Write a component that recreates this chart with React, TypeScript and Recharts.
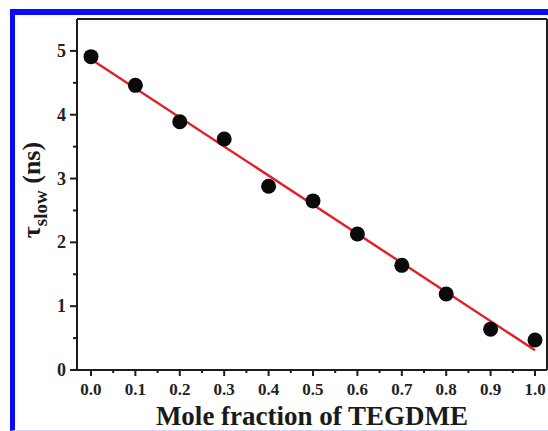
import React from "react";
import {
  ComposedChart,
  Scatter,
  Line,
  XAxis,
  YAxis,
  ReferenceLine,
} from "recharts";

// measured points: tau_slow (ns) vs mole fraction of TEGDME
const moleFractions = [0.0, 0.1, 0.2, 0.3, 0.4, 0.5, 0.6, 0.7, 0.8, 0.9, 1.0];
const tauSlow = [4.91, 4.46, 3.89, 3.62, 2.88, 2.65, 2.13, 1.64, 1.19, 0.64, 0.47];

// linear fit (red line), end points
const fitX = [0.0, 1.0];
const fitY = [4.87, 0.31];

const xMajorTicks = [0.0, 0.1, 0.2, 0.3, 0.4, 0.5, 0.6, 0.7, 0.8, 0.9, 1.0];
const xMinorTicks = [0.05, 0.15, 0.25, 0.35, 0.45, 0.55, 0.65, 0.75, 0.85, 0.95];
const yMajorTicks = [0, 1, 2, 3, 4, 5];
const yMinorTicks = [0.5, 1.5, 2.5, 3.5, 4.5];

const points = moleFractions.map((x, i) => ({ x, y: tauSlow[i] }));
const fitLine = fitX.map((x, i) => ({ x, y: fitY[i] }));

const FONT = '"Liberation Serif", "Times New Roman", serif';
const AXIS = "#1c1c1c";

const isMajor = (v: number, list: number[]) =>
  list.some((m) => Math.abs(m - v) < 1e-6);

function XTick(props: any) {
  const { x, y, payload } = props;
  const major = isMajor(payload.value, xMajorTicks);
  return (
    <g>
      <line x1={x} x2={x} y1={y} y2={y + (major ? 6 : 3)} stroke={AXIS} strokeWidth={2} />
      {major && (
        <text
          x={x}
          y={y + 25}
          textAnchor="middle"
          fontFamily={FONT}
          fontWeight="bold"
          fontSize={17}
          fill="#222"
        >
          {payload.value.toFixed(1)}
        </text>
      )}
    </g>
  );
}

function YTick(props: any) {
  const { x, y, payload } = props;
  const major = isMajor(payload.value, yMajorTicks);
  return (
    <g>
      <line x1={x} x2={x - (major ? 7 : 4)} y1={y} y2={y} stroke={AXIS} strokeWidth={2} />
      {major && (
        <text
          x={x - 11}
          y={y + 6}
          textAnchor="end"
          fontFamily={FONT}
          fontWeight="bold"
          fontSize={18}
          fill="#222"
        >
          {payload.value}
        </text>
      )}
    </g>
  );
}

function Dot(props: any) {
  const { cx, cy } = props;
  return <circle cx={cx} cy={cy} r={7.5} fill="#0a0a0a" />;
}

export default function App() {
  return (
    <div
      style={{
        position: "absolute",
        left: 0,
        top: 0,
        width: 548,
        height: 431,
        overflow: "hidden",
        background: "#fff",
      }}
    >
      <div
        style={{
          position: "absolute",
          left: 10,
          top: 9,
          width: 600,
          height: 415,
          borderTop: "6px solid #0a0aff",
          borderLeft: "5px solid #0a0aff",
          borderBottom: "1px solid #d4d4ff",
        }}
      />
      <div style={{ position: "absolute", left: 0, top: 0 }}>
        <ComposedChart
          width={548}
          height={431}
          margin={{ top: 19, right: 1, left: 0, bottom: 0 }}
        >
          <XAxis
            type="number"
            dataKey="x"
            domain={[-0.0315, 1.027]}
            allowDataOverflow
            ticks={[...xMajorTicks, ...xMinorTicks].sort((a, b) => a - b)}
            interval={0}
            height={61}
            tickSize={0}
            tickMargin={0}
            tickLine={false}
            axisLine={{ stroke: AXIS, strokeWidth: 2 }}
            tick={<XTick />}
            label={{
              content: () => (
                <text
                  x={312}
                  y={425}
                  textAnchor="middle"
                  fontFamily={FONT}
                  fontWeight="bold"
                  fontSize={27}
                  fill="#1a1a1a"
                >
                  Mole fraction of TEGDME
                </text>
              ),
            }}
          />
          <YAxis
            type="number"
            dataKey="y"
            domain={[0, 5.5]}
            allowDataOverflow
            ticks={[...yMajorTicks, ...yMinorTicks].sort((a, b) => a - b)}
            interval={0}
            width={77}
            tickSize={0}
            tickMargin={0}
            tickLine={false}
            axisLine={{ stroke: AXIS, strokeWidth: 2 }}
            tick={<YTick />}
            label={{
              content: () => (
                <text
                  transform="rotate(-90, 40, 190)"
                  x={40}
                  y={190}
                  textAnchor="middle"
                  fontFamily={FONT}
                  fontWeight="bold"
                  fontSize={26}
                  fill="#1a1a1a"
                >
                  τ
                  <tspan fontSize={19} dy={7}>
                    slow
                  </tspan>
                  <tspan dy={-7}> (ns)</tspan>
                </text>
              ),
            }}
          />
          <ReferenceLine y={5.5} stroke={AXIS} strokeWidth={2} />
          <ReferenceLine x={1.027} stroke={AXIS} strokeWidth={2} />
          <Scatter data={points} shape={<Dot />} isAnimationActive={false} />
          <Line
            data={fitLine}
            dataKey="y"
            type="linear"
            stroke="#e41e26"
            strokeWidth={2.4}
            dot={false}
            activeDot={false}
            isAnimationActive={false}
          />
        </ComposedChart>
      </div>
    </div>
  );
}
